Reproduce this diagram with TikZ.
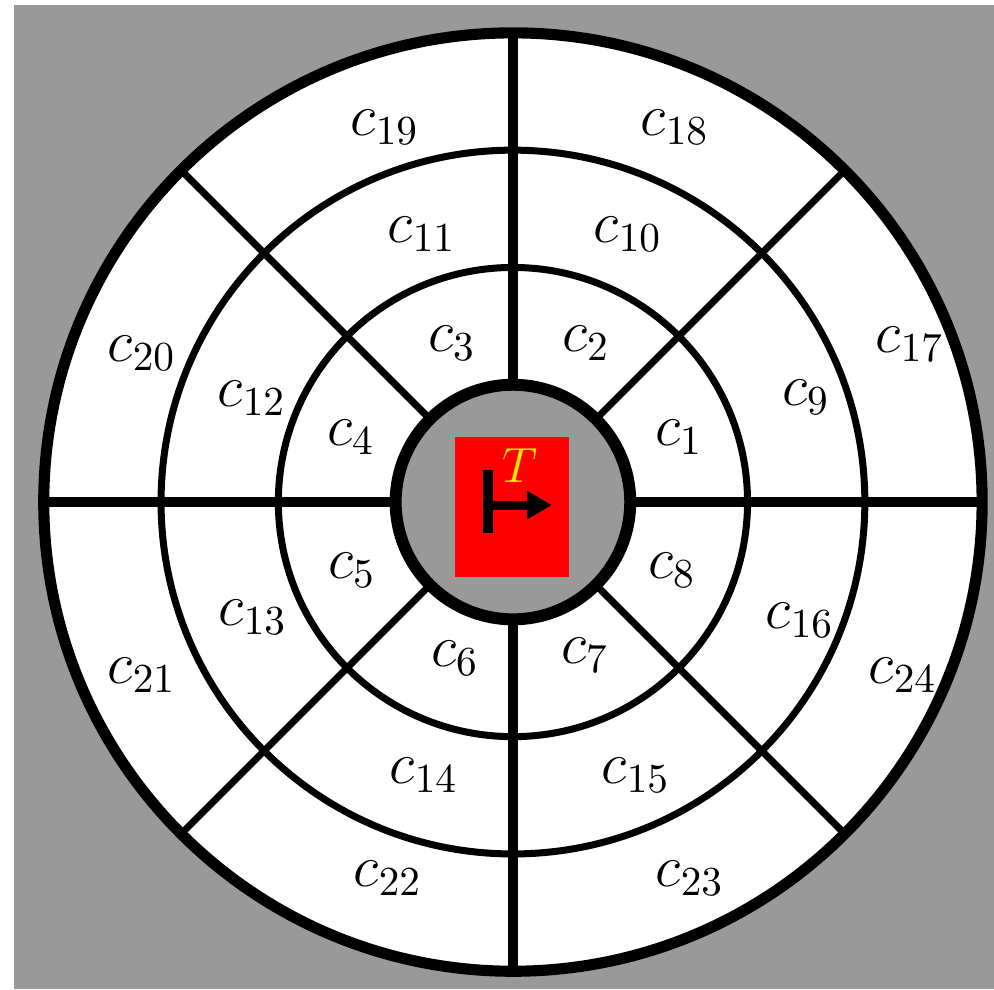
\documentclass[tikz,border=0pt]{standalone}
\usepackage{amsmath}
\usepackage{tikz}
\usetikzlibrary{arrows.meta,calc}
\definecolor{bggray}{RGB}{153,153,153}
\definecolor{tgtred}{RGB}{255,0,0}
\definecolor{tgtyellow}{RGB}{255,230,0}

\begin{document}
\begin{tikzpicture}[
    every node/.style={font=\Large},
    cell/.style={inner sep=0pt},
    ring/.style={draw=black, line width=1.7pt},
    rim/.style={draw=black, line width=2.7pt},
    axis/.style={draw=black, line width=2.4pt},
    diag/.style={draw=black, line width=1.7pt},
    hub/.style={draw=black, fill=bggray, line width=2.9pt},
    heading/.style={-{Triangle[length=6pt,width=6.5pt]}, line width=2.2pt}
]

% Frame
\useasboundingbox (-4.373,-4.152) rectangle (4.101,4.280);
\fill[bggray] (-4.254,-4.152) rectangle (4.101,4.237);

% Rings
\fill[white] (0,0) circle (4);
\draw[ring] (0,0) circle (2);
\draw[ring] (0,0) circle (3);

% Spokes
\draw[axis] (0:1)   -- (0:4);
\draw[axis] (90:1)  -- (90:4);
\draw[axis] (180:1) -- (180:4);
\draw[axis] (270:1) -- (270:4);
\draw[diag] (45:1)  -- (45:4);
\draw[diag] (135:1) -- (135:4);
\draw[diag] (225:1) -- (225:4);
\draw[diag] (315:1) -- (315:4);
\draw[rim] (0,0) circle (4);

% Hub with target
\draw[hub] (0,0) circle (1);
\fill[tgtred] (-0.494,-0.639) rectangle (0.477,0.554);
\coordinate (bartop) at (-0.213,0.273);
\coordinate (barbot) at (-0.213,-0.264);
\coordinate (arrowtip) at (0.332,-0.026);
\draw[line width=2.4pt] (bartop) -- (barbot);
\draw[heading] (bartop |- arrowtip) -- (arrowtip);
\node[font=\large, text=tgtyellow] (target) at (0.06,0.315) {$T$};

% Inner ring
\node[cell] (c1) at (1.415,0.554)   {$c_{1}$};
\node[cell] (c2) at (0.622,1.355)   {$c_{2}$};
\node[cell] (c3) at (-0.520,1.355)  {$c_{3}$};
\node[cell] (c4) at (-1.381,0.554)  {$c_{4}$};
\node[cell] (c5) at (-1.373,-0.580) {$c_{5}$};
\node[cell] (c6) at (-0.494,-1.330) {$c_{6}$};
\node[cell] (c7) at (0.614,-1.304)  {$c_{7}$};
\node[cell] (c8) at (1.355,-0.580)  {$c_{8}$};

% Middle ring
\node[cell] (c9)  at (2.498,0.895)   {$c_{9}$};
\node[cell] (c10) at (0.980,2.285)   {$c_{10}$};
\node[cell] (c11) at (-0.776,2.285)  {$c_{11}$};
\node[cell] (c12) at (-2.225,0.887)  {$c_{12}$};
\node[cell] (c13) at (-2.217,-0.980) {$c_{13}$};
\node[cell] (c14) at (-0.759,-2.327) {$c_{14}$};
\node[cell] (c15) at (1.049,-2.327)  {$c_{15}$};
\node[cell] (c16) at (2.447,-1.006)  {$c_{16}$};

% Outer ring
\node[cell] (c17) at (3.384,1.347)   {$c_{17}$};
\node[cell] (c18) at (1.381,3.197)   {$c_{18}$};
\node[cell] (c19) at (-1.091,3.197)  {$c_{19}$};
\node[cell] (c20) at (-3.163,1.270)  {$c_{20}$};
\node[cell] (c21) at (-3.163,-1.475) {$c_{21}$};
\node[cell] (c22) at (-1.066,-3.205) {$c_{22}$};
\node[cell] (c23) at (1.509,-3.205)  {$c_{23}$};
\node[cell] (c24) at (3.325,-1.475)  {$c_{24}$};

\end{tikzpicture}
\end{document}
